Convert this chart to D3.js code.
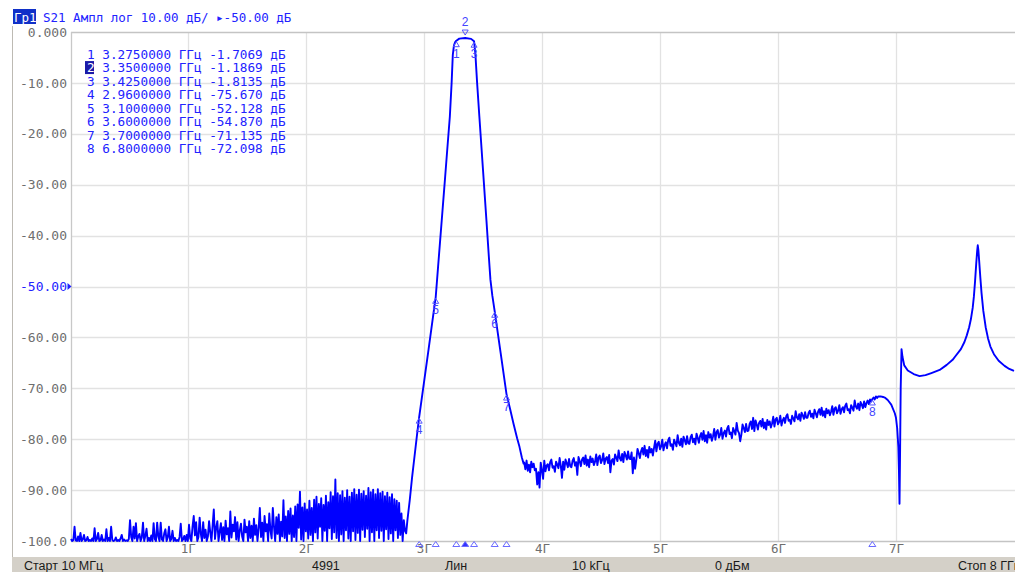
<!DOCTYPE html>
<html>
<head>
<meta charset="utf-8">
<script src="https://cdn.jsdelivr.net/npm/d3@7"></script>
<style>
  body { margin: 0; background: #fff; }
  svg { display: block; }
</style>
</head>
<body>
<svg width="1015" height="572"></svg>
<script>
// axis ticks
const yTickValues = [0, -10, -20, -30, -40, -50, -60, -70, -80, -90, -100];
const yTickLabels = ["0.000", "-10.00", "-20.00", "-30.00", "-40.00", "-50.00", "-60.00", "-70.00", "-80.00", "-90.00", "-100.0"];
const xTickValues = [1, 2, 3, 4, 5, 6, 7];
const xTickLabels = ["1Г", "2Г", "3Г", "4Г", "5Г", "6Г", "7Г"];

// markers
const markerNum = [1, 2, 3, 4, 5, 6, 7, 8];
const markerFreq = [3.275, 3.35, 3.425, 2.96, 3.1, 3.6, 3.7, 6.8];
const markerDb = [-1.7069, -1.1869, -1.8135, -75.670, -52.128, -54.870, -71.135, -72.098];
const markerFreqText = ["3.2750000", "3.3500000", "3.4250000", "2.9600000", "3.1000000", "3.6000000", "3.7000000", "6.8000000"];
const markerDbText = ["-1.7069", "-1.1869", "-1.8135", "-75.670", "-52.128", "-54.870", "-71.135", "-72.098"];
const activeMarker = 2;

// trace, noise floor 0.01..2.84 GHz, step 0.01 GHz
const noiseStart = 0.01, noiseStep = 0.01;
const noiseDb = [
  -99.6, -100.4, -99.8, -97.2, -99.9, -100.3, -99.1, -100.5, -98.4, -100.1,
  -99.7, -98.8, -100.4, -99.9, -99.2, -100.6, -99.8, -100.2, -99.5, -100.3,
  -97.5, -100.2, -99.6, -98.4, -100.5, -99.9, -98.8, -100.3, -99.7, -100.4,
  -97.7, -100.1, -99.4, -100.6, -97.2, -99.8, -100.3, -99.9, -99.3, -100.5,
  -99.8, -100.2, -99.5, -98.8, -100.4, -99.7, -100.1, -99.9, -100.5, -99.6,
  -95.9, -99.2, -100.3, -97.2, -99.5, -96.5, -100.2, -99.1, -98.6, -100.4,
  -99.3, -96.4, -100.1, -99.0, -97.6, -100.5, -99.4, -100.2, -98.9, -100.3,
  -96.5, -99.6, -100.2, -96.4, -99.1, -100.4, -96.4, -99.7, -100.3, -98.5,
  -97.7, -100.2, -99.3, -97.2, -100.5, -99.6, -98.0, -100.1, -99.4, -100.6,
  -99.8, -100.3, -99.2, -96.6, -100.4, -99.7, -99.0, -100.2, -98.8, -100.5,
  -96.8, -99.5, -100.2, -97.1, -95.1, -98.9, -96.3, -100.4, -99.2, -95.4,
  -98.6, -100.3, -96.3, -99.4, -97.8, -100.5, -99.1, -96.1, -98.3, -100.2,
  -96.9, -93.8, -99.6, -97.4, -96.1, -100.3, -98.2, -96.5, -99.8, -97.3,
  -100.1, -96.0, -98.7, -97.5, -100.4, -94.2, -99.3, -96.8, -98.1, -95.3,
  -99.7, -96.3, -100.2, -97.9, -96.6, -99.1, -100.4, -95.8, -98.3, -97.2,
  -100.3, -96.1, -99.4, -97.0, -100.5, -95.6, -98.8, -96.9, -100.1, -97.5,
  -93.5, -99.2, -96.4, -100.3, -95.1, -98.1, -96.7, -100.4, -94.6, -97.9,
  -99.5, -93.5, -97.2, -100.2, -95.3, -98.6, -94.8, -100.5, -96.2, -99.1,
  -92.0, -99.4, -95.2, -100.3, -94.1, -98.6, -93.6, -100.1, -95.0, -99.2,
  -93.2, -100.2, -92.8, -97.4, -90.3, -99.7, -93.4, -100.2, -92.6, -98.1,
  -93.8, -99.5, -92.1, -98.8, -93.5, -100.4, -91.9, -98.3, -91.3, -99.5,
  -92.7, -97.2, -91.6, -100.3, -92.9, -98.0, -91.1, -100.3, -92.4, -97.5,
  -90.4, -99.6, -91.2, -98.3, -87.9, -99.4, -90.6, -100.4, -91.0, -98.7,
  -90.2, -100.1, -91.5, -97.9, -90.0, -99.5, -91.3, -100.4, -90.5, -98.1,
  -89.8, -99.8, -90.9, -98.4, -89.9, -100.3, -90.7, -97.8, -90.2, -99.2,
  -91.1, -97.6, -89.6, -100.2, -90.4, -98.3, -89.9, -100.4, -90.8, -97.9,
  -89.8, -99.4, -90.6, -98.0, -90.3, -100.3, -91.2, -97.7, -90.5, -99.6,
  -91.4, -98.5, -90.8, -100.3, -91.8, -97.9, -92.1, -99.4, -92.5, -98.8,
  -94.6, -100.3, -95.9, -98.0
];

// passband of the filter
const passFreq = [2.85, 2.86, 2.88, 2.90, 2.92, 2.94, 2.96, 3.00, 3.04, 3.08, 3.10,
  3.12, 3.14, 3.16, 3.18, 3.20, 3.22, 3.235, 3.245, 3.255, 3.265, 3.275,
  3.30, 3.35, 3.40, 3.425, 3.436, 3.451, 3.47, 3.50, 3.53, 3.55, 3.564, 3.58, 3.60,
  3.65, 3.70, 3.73, 3.76, 3.79, 3.81, 3.83, 3.845];
const passDb = [-98.5, -96.0, -92.0, -87.5, -83.5, -79.5, -75.67, -69.0, -62.3, -55.5, -52.13,
  -46.2, -40.3, -34.4, -28.5, -22.5, -16.6, -10.0, -4.5, -2.6, -2.0, -1.71,
  -1.3, -1.19, -1.35, -1.81, -4.2, -10.0, -16.6, -26.8, -37.0, -44.0, -48.7, -51.8, -54.87,
  -63.0, -71.14, -74.0, -77.0, -79.8, -81.5, -83.6, -84.8];

// upper stopband 3.85..6.84 GHz, step 0.01 GHz
const baseStart = 3.85, baseStep = 0.01;
const baseDb = [
  -84.6, -85.9, -84.2, -86.2, -85.0, -86.5, -84.4, -85.5, -84.8, -86.1,
  -85.8, -88.9, -86.5, -89.5, -84.6, -86.1, -87.8, -84.2, -86.3, -85.2,
  -84.9, -86.1, -84.5, -84.0, -85.6, -85.3, -86.4, -84.4, -85.0, -85.7,
  -83.7, -85.2, -87.6, -84.4, -86.0, -84.0, -84.7, -85.5, -83.9, -85.3,
  -85.5, -84.2, -83.7, -85.2, -84.5, -87.0, -83.5, -84.3, -85.3, -84.0,
  -83.6, -84.9, -83.2, -85.2, -84.0, -85.5, -83.4, -84.5, -83.8, -85.1,
  -84.4, -83.0, -85.1, -83.6, -83.2, -84.7, -84.1, -82.8, -84.9, -83.8,
  -83.5, -84.7, -83.1, -86.5, -84.2, -83.9, -85.0, -83.0, -83.6, -84.3,
  -82.2, -83.7, -84.2, -82.9, -84.5, -82.5, -83.2, -84.0, -82.4, -83.8,
  -83.9, -82.6, -86.7, -83.6, -85.8, -84.0, -81.9, -82.7, -83.7, -82.4,
  -81.7, -83.0, -81.3, -83.3, -82.1, -83.6, -81.5, -82.6, -81.9, -83.2,
  -81.7, -80.3, -82.4, -80.9, -80.5, -82.0, -81.4, -80.1, -82.2, -81.1,
  -80.6, -81.8, -80.2, -79.7, -81.3, -81.0, -82.1, -80.1, -80.7, -81.4,
  -79.2, -80.7, -81.2, -79.9, -81.5, -79.5, -80.2, -81.0, -79.4, -80.8,
  -80.9, -79.6, -79.1, -80.6, -79.9, -81.0, -78.9, -79.7, -80.7, -79.4,
  -78.8, -80.1, -78.4, -80.4, -79.2, -80.7, -78.6, -79.7, -79.0, -80.3,
  -79.4, -78.0, -80.1, -78.6, -78.2, -79.7, -79.1, -77.8, -79.9, -78.8,
  -78.3, -79.5, -77.9, -77.4, -79.0, -78.7, -79.8, -77.8, -78.4, -79.1,
  -76.8, -78.3, -78.8, -80.4, -79.1, -77.1, -77.8, -78.6, -77.0, -78.4,
  -78.3, -77.0, -76.5, -78.0, -75.8, -78.4, -76.3, -77.1, -78.1, -76.8,
  -76.4, -77.5, -76.0, -77.8, -76.7, -78.1, -76.2, -77.2, -76.5, -77.7,
  -76.9, -75.6, -77.5, -76.1, -75.8, -77.1, -76.6, -75.4, -77.3, -76.3,
  -75.8, -76.8, -75.5, -75.1, -76.4, -76.2, -77.0, -75.4, -75.9, -76.5,
  -74.5, -75.7, -76.1, -75.1, -76.4, -74.8, -75.3, -76.0, -74.7, -75.8,
  -75.8, -74.8, -74.4, -75.6, -75.0, -75.9, -74.2, -74.9, -75.7, -74.6,
  -74.1, -75.2, -73.8, -75.4, -74.5, -75.7, -74.0, -74.9, -74.3, -75.3,
  -74.6, -73.5, -75.2, -74.0, -73.7, -74.9, -74.4, -73.3, -75.0, -74.1,
  -73.7, -74.7, -73.4, -73.0, -74.3, -74.1, -74.9, -73.3, -73.8, -74.4,
  -72.4, -73.6, -74.0, -73.0, -74.3, -72.7, -73.2, -73.9, -72.6, -73.7,
  -72.9, -72.4, -73.1, -72.2, -72.6, -72.1, -71.8, -72.2, -71.6, -71.9
];

// spurious response above 6.85 GHz
const tailFreq = [6.85, 6.87, 6.89, 6.91, 6.93, 6.96, 6.99, 7.00, 7.01, 7.02,
  7.025, 7.03, 7.035, 7.04, 7.047, 7.055, 7.07, 7.10, 7.15, 7.20,
  7.25, 7.30, 7.37, 7.43, 7.48, 7.50, 7.55, 7.58, 7.60, 7.62,
  7.635, 7.65, 7.66, 7.67, 7.68, 7.688, 7.693, 7.698, 7.705, 7.715,
  7.725, 7.74, 7.76, 7.78, 7.80, 7.83, 7.87, 7.92, 7.96, 8.00];
const tailDb = [-71.6, -71.6, -71.7, -71.9, -72.3, -73.2, -74.9, -75.8, -77.8, -81.5,
  -86.0, -92.7, -82.0, -70.0, -62.3, -63.8, -65.5, -66.5, -67.2, -67.6,
  -67.4, -67.0, -66.4, -65.4, -64.4, -63.8, -62.3, -60.9, -59.6, -58.0,
  -56.4, -54.2, -52.0, -49.0, -45.5, -43.0, -41.9, -42.8, -45.0, -48.3,
  -51.3, -54.8, -58.0, -60.2, -61.8, -63.3, -64.6, -65.6, -66.2, -66.6];

// status bar
const statusText = ["Старт 10 МГц", "4991", "Лин", "10 kГц", "0 дБм", "Стоп 8 ГГц"];
const statusX = [24, 312, 445, 572, 715, 958];

let trace = [];
noiseDb.forEach((v, i) => trace.push([noiseStart + i * noiseStep, v]));
passFreq.forEach((f, i) => trace.push([f, passDb[i]]));
baseDb.forEach((v, i) => trace.push([baseStart + i * baseStep, v]));
tailFreq.forEach((f, i) => trace.push([f, tailDb[i]]));

let svg = d3.select("svg");
const mono = "'DejaVu Sans Mono', monospace";
const sans = "'Liberation Sans', Arial, sans-serif";
const blue = "#2222ff";

const plotLeft = 71, plotRight = 1014, plotTop = 32, plotBottom = 541;
let x = d3.scaleLinear().domain([0.01, 8]).range([plotLeft, plotRight]);
let y = d3.scaleLinear().domain([-100, 0]).range([plotBottom, plotTop]).clamp(true);

// outer frame line
svg.append("line").attr("x1", 12.5).attr("x2", 12.5).attr("y1", 26).attr("y2", 557)
  .style("stroke", "#bdbab3").style("stroke-width", 1);

// grid
let grid = svg.append("g");
grid.selectAll(".gx").data(xTickValues).enter().append("line")
  .attr("x1", d => Math.round(x(d)) + 0.5).attr("x2", d => Math.round(x(d)) + 0.5)
  .attr("y1", plotTop).attr("y2", plotBottom)
  .style("stroke", "#e2e2e2").style("stroke-width", 1.3);
grid.selectAll(".gy").data(yTickValues).enter().append("line")
  .attr("x1", plotLeft).attr("x2", 1015)
  .attr("y1", d => Math.round(y(d)) + 0.5).attr("y2", d => Math.round(y(d)) + 0.5)
  .style("stroke", d => (d === 0 || d === -100) ? "#c4c4c4" : "#e2e2e2")
  .style("stroke-width", 1.3);
svg.append("line").attr("x1", plotLeft + 0.5).attr("x2", plotLeft + 0.5).attr("y1", plotTop).attr("y2", plotBottom + 1)
  .style("stroke", "#c8c8c8").style("stroke-width", 1.3);

// y axis
let yAxis = svg.append("g").attr("transform", "translate(67,0)")
  .call(d3.axisLeft(y).tickValues(yTickValues).tickSize(0).tickPadding(0)
    .tickFormat((d, i) => yTickLabels[i]));
yAxis.select(".domain").remove();
yAxis.selectAll("text")
  .style("font-family", mono).style("font-size", "13px")
  .style("fill", d => d === -50 ? blue : "#6e6e6e");
svg.append("path")
  .attr("d", `M67.5,${y(-50) - 3.5}L71.5,${y(-50)}L67.5,${y(-50) + 3.5}Z`)
  .style("fill", blue);

// x axis
let xAxis = svg.append("g").attr("transform", "translate(0,553)")
  .call(d3.axisBottom(x).tickValues(xTickValues).tickSize(0).tickPadding(0)
    .tickFormat((d, i) => xTickLabels[i]));
xAxis.select(".domain").remove();
xAxis.selectAll("text").attr("y", 0).attr("dy", 0)
  .style("font-family", mono).style("font-size", "12.5px").style("fill", "#6e6e6e");

// trace
let line = d3.line().x(d => x(d[0])).y(d => y(d[1]));
svg.append("path").datum(trace).attr("d", line)
  .style("fill", "none").style("stroke", "#0000ff")
  .style("stroke-width", 1.9).style("stroke-linejoin", "round");

// markers on trace
let mk = svg.append("g");
markerNum.forEach((n, i) => {
  let px = x(markerFreq[i]), py = y(markerDb[i]);
  if (n === activeMarker) {
    mk.append("path").attr("d", `M${px - 3},${py - 8}L${px + 3},${py - 8}L${px},${py - 3}Z`)
      .style("fill", "none").style("stroke", "#5555ff").style("stroke-width", 1);
    mk.append("text").attr("x", px).attr("y", py - 12).attr("text-anchor", "middle")
      .style("font-family", sans).style("font-size", "12px").style("fill", "#4444ff").text(n);
  } else {
    mk.append("path").attr("d", `M${px},${py + 1}L${px + 3},${py + 6}L${px - 3},${py + 6}Z`)
      .style("fill", "none").style("stroke", "#5555ff").style("stroke-width", 1);
    mk.append("text").attr("x", px).attr("y", py + 17).attr("text-anchor", "middle")
      .style("font-family", sans).style("font-size", "12px").style("fill", "#4444ff").text(n);
  }
  // marker triangle on the frequency axis
  mk.append("path").attr("d", `M${px - 3.5},546.5L${px + 3.5},546.5L${px},541.5Z`)
    .style("fill", n === activeMarker ? "#3333ff" : "none")
    .style("stroke", "#6a6aff").style("stroke-width", 1);
});

// marker table
let table = svg.append("g");
markerNum.forEach((n, i) => {
  let ty = 54 + i * 13.57;
  if (n === activeMarker) {
    table.append("rect").attr("x", 85).attr("y", ty - 6.5).attr("width", 9).attr("height", 13)
      .style("fill", "#1a1aa8");
  }
  table.append("text").attr("x", 87).attr("y", ty).attr("dominant-baseline", "central")
    .style("font-family", mono).style("font-size", "12.7px")
    .style("fill", n === activeMarker ? "#ffffff" : blue).text(n);
  table.append("text").attr("x", 87 + 2 * 7.65).attr("y", ty).attr("dominant-baseline", "central")
    .style("font-family", mono).style("font-size", "12.7px").style("fill", blue)
    .text(`${markerFreqText[i]} ГГц ${markerDbText[i]} дБ`);
});

// header
svg.append("rect").attr("x", 13).attr("y", 9).attr("width", 23).attr("height", 15).style("fill", "#1030c8");
svg.append("text").attr("x", 14).attr("y", 17).attr("dominant-baseline", "central")
  .style("font-family", mono).style("font-size", "12.5px").style("fill", "#ffffff").text("Гр1");
svg.append("text").attr("x", 43).attr("y", 17).attr("dominant-baseline", "central")
  .style("font-family", mono).style("font-size", "12.5px").style("fill", blue)
  .style("white-space", "pre").text("S21 Ампл лог 10.00 дБ/ ▸-50.00 дБ");

// status bar
svg.append("rect").attr("x", 12).attr("y", 557).attr("width", 1003).attr("height", 15).style("fill", "#d4d0c8");
statusText.forEach((t, i) => {
  svg.append("text").attr("x", statusX[i]).attr("y", 569.5)
    .style("font-family", sans).style("font-size", "12.5px").style("fill", "#1a1a1a").text(t);
});
</script>
</body>
</html>
